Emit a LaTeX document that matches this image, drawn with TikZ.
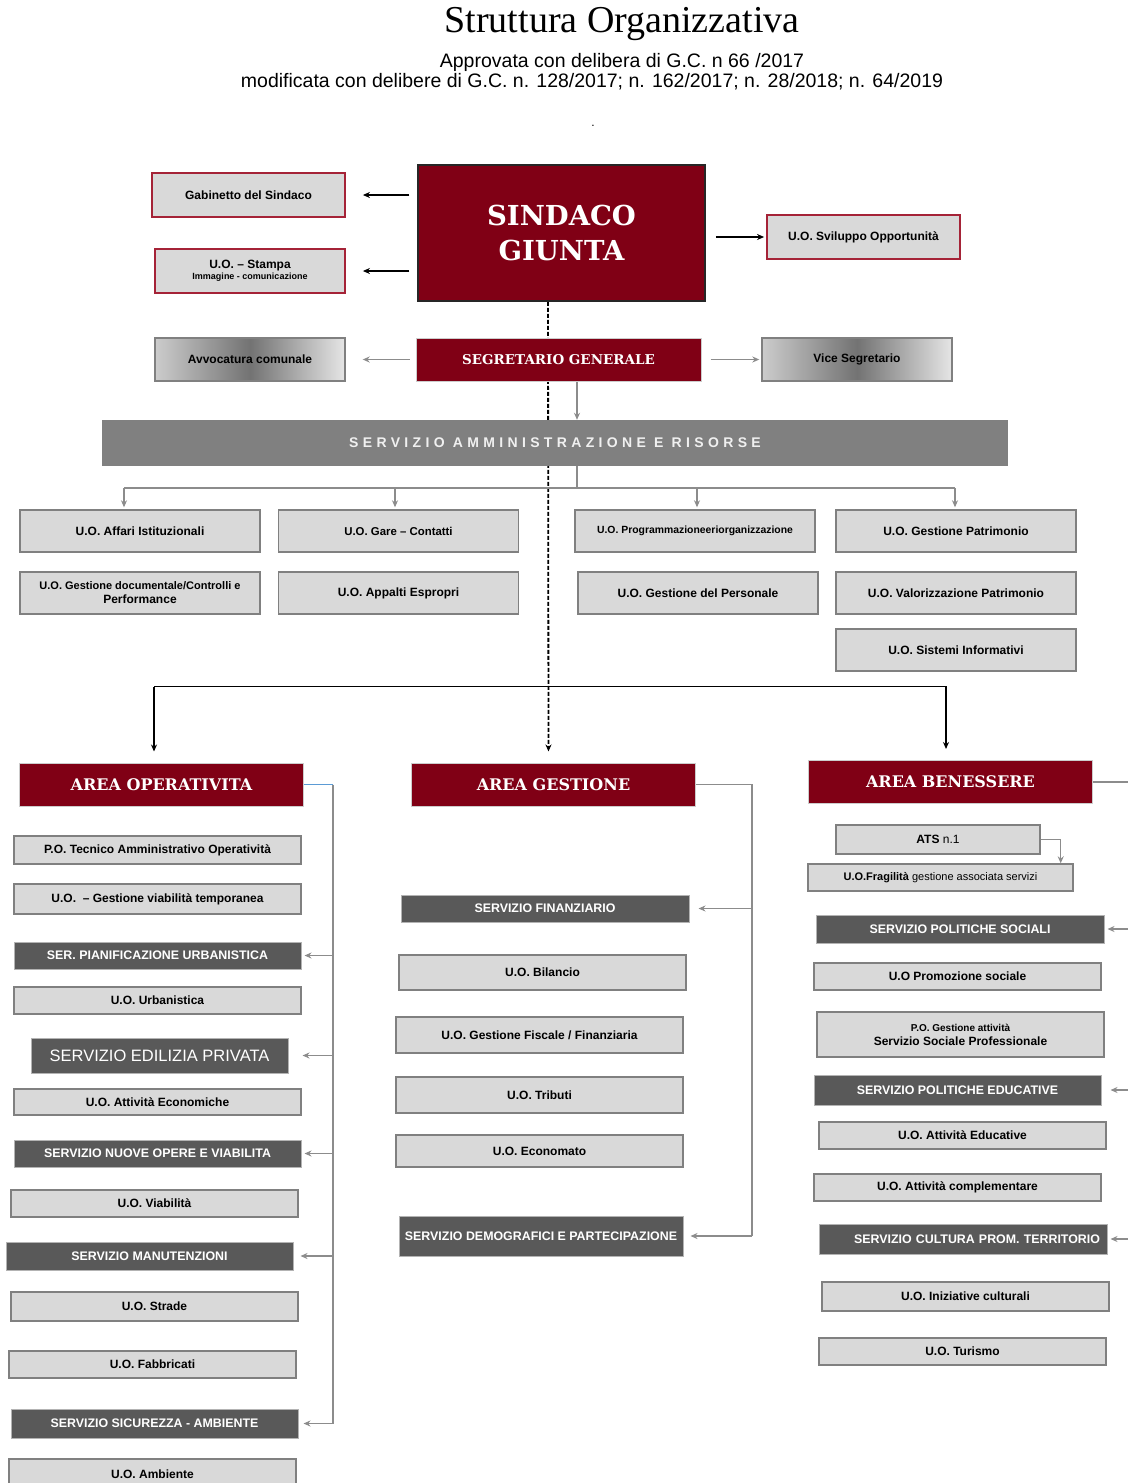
\documentclass[tikz,border=0pt]{standalone}
\usepackage{fontspec}
\setmainfont{Liberation Serif}
\setsansfont{Liberation Sans}
\newfontfamily\headserif{DejaVu Serif}
\newfontfamily\spacedsans{Liberation Sans}[LetterSpace=31]
\usetikzlibrary{arrows.meta,backgrounds}
\definecolor{sindacored}{RGB}{128,0,21}
\definecolor{framered}{RGB}{165,35,55}
\definecolor{boxfill}{RGB}{217,217,217}
\definecolor{boxgray}{RGB}{128,128,128}
\definecolor{servgray}{RGB}{89,89,89}
\definecolor{linegray}{RGB}{140,140,140}
\definecolor{sarblue}{RGB}{91,155,213}

\begin{document}
\begin{tikzpicture}[x=1pt, y=-1pt, >={Stealth[length=7pt,width=6pt]},
    every node/.style={font=\sffamily\bfseries\fontsize{12}{14}\selectfont, align=center, inner sep=1pt},
    uo/.style 2 args={draw=boxgray, fill=boxfill, line width=1.4pt, minimum width=#1pt, minimum height=#2pt},
    serv/.style 2 args={draw=boxgray!60, fill=servgray, line width=1pt, text=white, minimum width=#1pt, minimum height=#2pt, font=\sffamily\bfseries\fontsize{12.4}{14}\selectfont},
    staff/.style={uo={#1}{44}, draw=framered, line width=1.8pt},
    areabox/.style={draw=boxgray!40, fill=sindacored, line width=1pt, text=white, minimum width=284pt, minimum height=43pt, font=\headserif\bfseries\fontsize{16}{18}\selectfont},
    shadedbox/.style={draw=boxgray, line width=1.4pt, left color=black!20, right color=black!10, middle color=black!55, minimum width=190pt, minimum height=43pt},
    link/.style={->, line width=1.6pt},
    glink/.style={->, line width=1.8pt, color=linegray},
    gline/.style={line width=1.8pt, color=linegray}]
  \useasboundingbox (0,0) rectangle (1127,1483);

  % titolo
  \node[font=\rmfamily\fontsize{38}{40}\selectfont] (title) at (622,24) {Struttura Organizzativa};
  \node[font=\sffamily\fontsize{19.5}{20}\selectfont] (approv) at (622,62) {Approvata con delibera di G.C. n 66 /2017};
  \node[font=\sffamily\fontsize{19.5}{20}\selectfont] (modif) at (592,82) {modificata con delibere di G.C. n. 128/2017; n. 162/2017; n. 28/2018; n. 64/2019};
  \node[font=\sffamily\fontsize{12}{12}\selectfont] (dot) at (593,126) {.};

  % vertice
  \node[draw=black!85, fill=sindacored, line width=1.5pt, minimum width=287pt, minimum height=136pt, text=white,
        font=\headserif\bfseries\fontsize{27.5}{35}\selectfont] (sindaco) at (561.5,233) {SINDACO\\GIUNTA};
  \node[staff=193] (gabinetto) at (248.5,195) {Gabinetto del Sindaco};
  \node[staff=190] (stampa) at (250,271) {U.O. -- Stampa\\[-3pt]{\fontsize{9}{10}\selectfont Immagine - comunicazione}};
  \node[staff=193] (sviluppo) at (863.5,237) {U.O. Sviluppo Opportunità};

  \node[areabox, minimum width=285pt, font=\headserif\bfseries\fontsize{13.5}{15}\selectfont] (segretario) at (558.5,359.5) {SEGRETARIO GENERALE};
  \node[shadedbox] (avvocatura) at (250,359.5) {Avvocatura comunale};
  \node[shadedbox] (vice) at (857,359.5) {Vice Segretario};

  \node[fill=boxgray, minimum width=906pt, minimum height=46pt, text=white!94!black,
        font=\spacedsans\bfseries\fontsize{14}{16}\selectfont] (sar) at (555,443) {SERVIZIO AMMINISTRAZIONE E RISORSE};

  % unita del servizio amministrazione
  \foreach \n/\x/\y/\t in {affari/140/531/{U.O. Affari Istituzionali},
      gare/398.5/531/{\fontsize{11.4}{13}\selectfont U.O. Gare -- Contatti},
      programmazione/695/531/{\fontsize{10.4}{12}\selectfont U.O. Programmazioneeriorganizzazione},
      gpatrimonio/956/531/{U.O. Gestione Patrimonio},
      documentale/140/593/{\fontsize{11}{12}\selectfont U.O. Gestione documentale/Controlli e\\Performance},
      appalti/398.5/593/{U.O. Appalti Espropri},
      personale/698/593/{U.O. Gestione del Personale},
      valorizzazione/956/593/{U.O. Valorizzazione Patrimonio},
      sistemi/956/650/{U.O. Sistemi Informativi}}
    \node[uo={240}{42}] (\n) at (\x,\y) {\t};

  % aree
  \node[areabox] (areaop) at (161.5,784.5) {AREA OPERATIVITA};
  \node[areabox] (areages) at (553.5,784.5) {AREA GESTIONE};
  \node[areabox] (areaben) at (950.5,782) {AREA BENESSERE};

  % servizi
  \foreach \n/\x/\y/\w/\h/\t in {pianif/157.5/955.5/287/27/{SER. PIANIFICAZIONE URBANISTICA},
      nuoveopere/157.5/1153.5/287/27/{SERVIZIO NUOVE OPERE E VIABILITA},
      manutenzioni/149.5/1256/287/28/{SERVIZIO MANUTENZIONI},
      sicurezza/154.5/1423.5/287/29/{SERVIZIO SICUREZZA - AMBIENTE},
      finanziario/545/908.5/288/27/{SERVIZIO FINANZIARIO},
      demografici/541/1236/284/40/{SERVIZIO DEMOGRAFICI E PARTECIPAZIONE},
      polsociali/960/929/288/28/{SERVIZIO POLITICHE SOCIALI},
      poleducative/957.5/1090/287/30/{SERVIZIO POLITICHE EDUCATIVE}}
    \node[serv={\w}{\h}] (\n) at (\x,\y) {\t};
  \node[serv={257}{35}, font=\sffamily\fontsize{16.5}{18}\selectfont] (edilizia) at (159.5,1055.5) {SERVIZIO EDILIZIA PRIVATA};
  \node[serv={288}{30}, text width=274pt, align=right] (cultura) at (963,1239) {SERVIZIO CULTURA PROM. TERRITORIO};

  % unita operative delle aree
  \foreach \n/\x/\y/\h/\t in {potecnico/157.5/850/28/{P.O. Tecnico Amministrativo Operatività},
      viabtemp/157.5/899/30/{U.O. \ -- Gestione viabilità temporanea},
      urbanistica/157.5/1000.5/27/{U.O. Urbanistica},
      attecon/157.5/1102/26/{U.O. Attività Economiche},
      viabilita/154.5/1203.5/27/{U.O. Viabilità},
      strade/154.5/1306.5/29/{U.O. Strade},
      fabbricati/152.5/1364.5/27/{U.O. Fabbricati},
      ambiente/152.5/1474/30/{U.O. Ambiente},
      bilancio/542.5/972.5/35/{U.O. Bilancio},
      fiscale/539.5/1035/36/{U.O. Gestione Fiscale / Finanziaria},
      tributi/539.5/1095/36/{U.O. Tributi},
      economato/539.5/1151/32/{U.O. Economato},
      promozione/957.5/976.5/27/{U.O Promozione sociale},
      pogestione/960.5/1034.5/45/{\fontsize{10}{13}\selectfont P.O. Gestione attività\\Servizio Sociale Professionale},
      atteducative/962.5/1135.5/27/{U.O. Attività Educative},
      attcompl/957.5/1187.5/27/{U.O. Attività complementare},
      iniziative/965.5/1296.5/29/{U.O. Iniziative culturali},
      turismo/962.5/1351.5/27/{U.O. Turismo}}
    \node[uo={287}{\h}] (\n) at (\x,\y) {\t};
  \node[uo={204}{29}] (ats) at (938,839.5) {ATS {\mdseries n.1}};
  \node[uo={265}{27}, font=\sffamily\bfseries\fontsize{11}{13}\selectfont] (fragilita) at (940.5,877.5) {U.O.Fragilità {\mdseries gestione associata servizi}};

  \begin{scope}[on background layer]
    % collegamenti del vertice
    \draw[link, shorten <=8pt, shorten >=17pt] (sindaco.west |- gabinetto.east) -- (gabinetto.east);
    \draw[link, shorten <=8pt, shorten >=17pt] (sindaco.west |- stampa.east) -- (stampa.east);
    \draw[link, shorten <=10pt, shorten >=2pt] (sindaco.east |- sviluppo.west) -- (sviluppo.west);
    \draw[glink, shorten <=6pt, shorten >=17pt] (segretario.west |- avvocatura.east) -- (avvocatura.east);
    \draw[glink, shorten <=9pt, shorten >=2pt] (segretario.east |- vice.west) -- (vice.west);
    \draw[line width=1.8pt, dash pattern=on 4pt off 2pt, ->, shorten >=11pt] ([xshift=-13.5pt]sindaco.south) -- ([xshift=-5pt]areages.north);

    % servizio amministrazione
    \coordinate (sarhub) at (577,489);
    \draw[glink] (sarhub |- segretario.south) -- (sarhub |- sar.north);
    \draw[gline] (sarhub |- sar.south) -- (sarhub);
    \draw[gline] ([xshift=-16pt]affari.north) ++(0,-21) -- ++(831,0);
    \foreach \b/\dx in {affari/-16, gare/-3.5, programmazione/2, gpatrimonio/-1}
      \draw[glink, shorten >=2pt] ([xshift=\dx pt]\b.north) ++(0,-21) -- ([xshift=\dx pt]\b.north);

    % aree
    \draw[line width=1.8pt] ([xshift=-7.5pt]areaop.north) ++(0,-76) -- ++(792,0);
    \draw[link, shorten >=11pt] ([xshift=-7.5pt]areaop.north) ++(0,-76) -- ([xshift=-7.5pt]areaop.north);
    \draw[link, shorten >=11pt] ([xshift=-4.5pt]areaben.north) ++(0,-74) -- ([xshift=-4.5pt]areaben.north);

    % area operativita
    \coordinate (opbus) at (333,784.5);
    \draw[line width=1.4pt, sarblue] (areaop.east) -- (opbus);
    \draw[gline] (opbus) -- (opbus |- sicurezza.east);
    \foreach \s/\g in {pianif/3, edilizia/14, nuoveopere/3, manutenzioni/7, sicurezza/5}
      \draw[glink, shorten >=\g pt] (opbus |- \s.east) -- (\s.east);

    % area gestione
    \coordinate (gesbus) at (752,784.5);
    \draw[gline] (areages.east) -- (gesbus) -- (gesbus |- demografici.east);
    \foreach \s/\g in {finanziario/9, demografici/7}
      \draw[glink, shorten >=\g pt] (gesbus |- \s.east) -- (\s.east);

    % area benessere
    \coordinate (benbus) at (1140,782);
    \draw[gline] (areaben.east) -- (benbus) -- (benbus |- cultura.east);
    \foreach \s/\g in {polsociali/3, poleducative/9, cultura/3}
      \draw[glink, shorten >=\g pt] (benbus |- \s.east) -- (\s.east);
    \draw[glink, line width=1.2pt] (ats.east) -| ([xshift=-13pt]fragilita.north east);
  \end{scope}
\end{tikzpicture}
\end{document}
